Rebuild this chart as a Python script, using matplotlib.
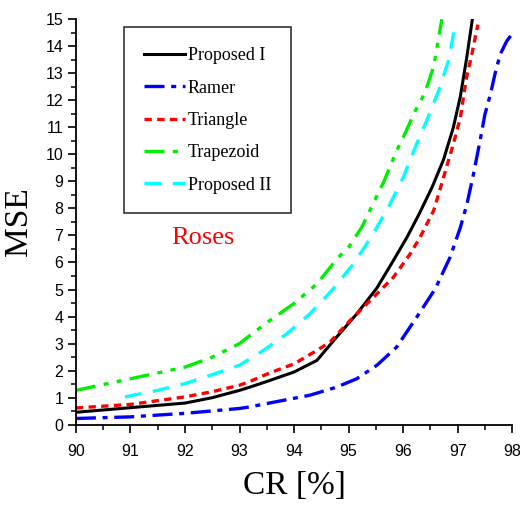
import matplotlib
matplotlib.use("Agg")
import matplotlib.pyplot as plt
from matplotlib.ticker import MultipleLocator

# values
prop1_x = [90, 91, 92, 92.5, 93, 93.19, 93.56, 94.0, 94.42, 94.78, 95.15, 95.52, 95.82,
           96.07, 96.3, 96.53, 96.74, 96.92, 97.05, 97.16, 97.27]
prop1_y = [0.46, 0.63, 0.8, 1.0, 1.27, 1.39, 1.64, 1.95, 2.38, 3.24, 4.1, 5.06, 6.07,
           6.93, 7.82, 8.78, 9.8, 10.99, 12.15, 13.5, 15.0]

ramer_x = [90, 91, 92, 93, 93.19, 93.8, 94.29, 94.78, 95.15, 95.52, 95.88, 96.25, 96.59,
           96.86, 97.05, 97.17, 97.29, 97.41, 97.5, 97.6, 97.69, 97.78, 97.9, 97.99, 98.0]
ramer_y = [0.23, 0.29, 0.42, 0.6, 0.66, 0.9, 1.09, 1.39, 1.7, 2.2, 2.87, 3.98, 5.03,
           6.19, 7.3, 8.16, 9.27, 10.5, 11.48, 12.22, 13.02, 13.7, 14.19, 14.43, 14.45]

tri_x = [90, 91, 92, 92.5, 93, 93.19, 93.56, 94.0, 94.42, 94.66, 95.03, 95.46, 95.82,
         96.13, 96.31, 96.56, 96.74, 96.92, 97.05, 97.16, 97.26, 97.37]
tri_y = [0.62, 0.75, 1.03, 1.22, 1.46, 1.6, 1.92, 2.25, 2.75, 3.06, 3.86, 4.72, 5.45,
         6.32, 6.93, 7.92, 9.14, 10.38, 11.36, 12.83, 13.7, 14.8]

trap_x = [90, 91, 92, 92.5, 93, 93.19, 93.56, 93.99, 94.42, 94.81, 95.0, 95.24, 95.46,
          95.64, 95.88, 96.0, 96.22, 96.40, 96.56, 96.65, 96.71]
trap_y = [1.27, 1.7, 2.13, 2.5, 3.0, 3.3, 3.86, 4.47, 5.21, 6.19, 6.56, 7.3, 8.22,
          8.96, 10.13, 10.62, 11.6, 12.28, 13.25, 14.3, 15.0]

prop2_x = [90.9, 91.5, 92, 92.5, 93, 93.44, 93.87, 94.29, 94.69, 95.09, 95.43, 95.73,
           96.0, 96.22, 96.43, 96.65, 96.83, 96.95]
prop2_y = [1.03, 1.27, 1.52, 1.85, 2.2, 2.75, 3.37, 4.1, 4.96, 5.95, 6.99, 8.04,
           9.14, 10.25, 11.24, 12.34, 13.45, 14.74]

fig = plt.figure(figsize=(5.2, 5.05), dpi=100)
ax = fig.add_axes([0.146, 0.159, 0.839, 0.803])

ax.plot(prop1_x, prop1_y, color="black", lw=2.2, label="Proposed I")
ax.plot(ramer_x, ramer_y, color="blue", lw=2.4, dashes=(6, 2, 1.5, 2), label="Ramer")
ax.plot(tri_x, tri_y, color="red", lw=2.4, dashes=(2.2, 1.6), label="Triangle")
ax.plot(trap_x, trap_y, color="#00ee00", lw=2.4, dashes=(6, 2.5, 1.5, 2.5, 1.5, 2.5),
        label="Trapezoid")
ax.plot(prop2_x, prop2_y, color="cyan", lw=2.4, dashes=(5, 3.5), label="Proposed II")

ax.set_xlim(90, 98)
ax.set_ylim(0, 15)
ax.xaxis.set_major_locator(MultipleLocator(1))
ax.xaxis.set_minor_locator(MultipleLocator(0.5))
ax.yaxis.set_major_locator(MultipleLocator(1))
ax.yaxis.set_minor_locator(MultipleLocator(0.5))

for s in ["top", "right"]:
    ax.spines[s].set_visible(False)
for s in ["left", "bottom"]:
    ax.spines[s].set_linewidth(1.3)

ax.tick_params(which="major", direction="out", length=6, width=1.2,
               labelsize=11.5, pad=3)
ax.tick_params(which="minor", direction="out", length=3.5, width=1.1)
for lab in ax.get_xticklabels() + ax.get_yticklabels():
    lab.set_family("Liberation Sans")
ax.tick_params(axis="x", pad=8)

ax.set_xlabel("CR [%]", family="Liberation Serif", fontsize=24, labelpad=8)
ax.set_ylabel("MSE", family="Liberation Serif", fontsize=24, labelpad=8)

leg = ax.legend(loc="upper left", bbox_to_anchor=(0.11, 0.98),
                prop={"family": "Liberation Serif", "size": 13},
                frameon=True, fancybox=False, edgecolor="black",
                handlelength=2.3, handletextpad=0.15, labelspacing=0.85,
                borderpad=1.1, borderaxespad=0)
leg.get_frame().set_linewidth(1.2)

ax.text(0.29, 0.46, "Roses", transform=ax.transAxes, color="red",
        family="Liberation Serif", fontsize=19, ha="center", va="center")

fig.savefig("out.png", dpi=100)
